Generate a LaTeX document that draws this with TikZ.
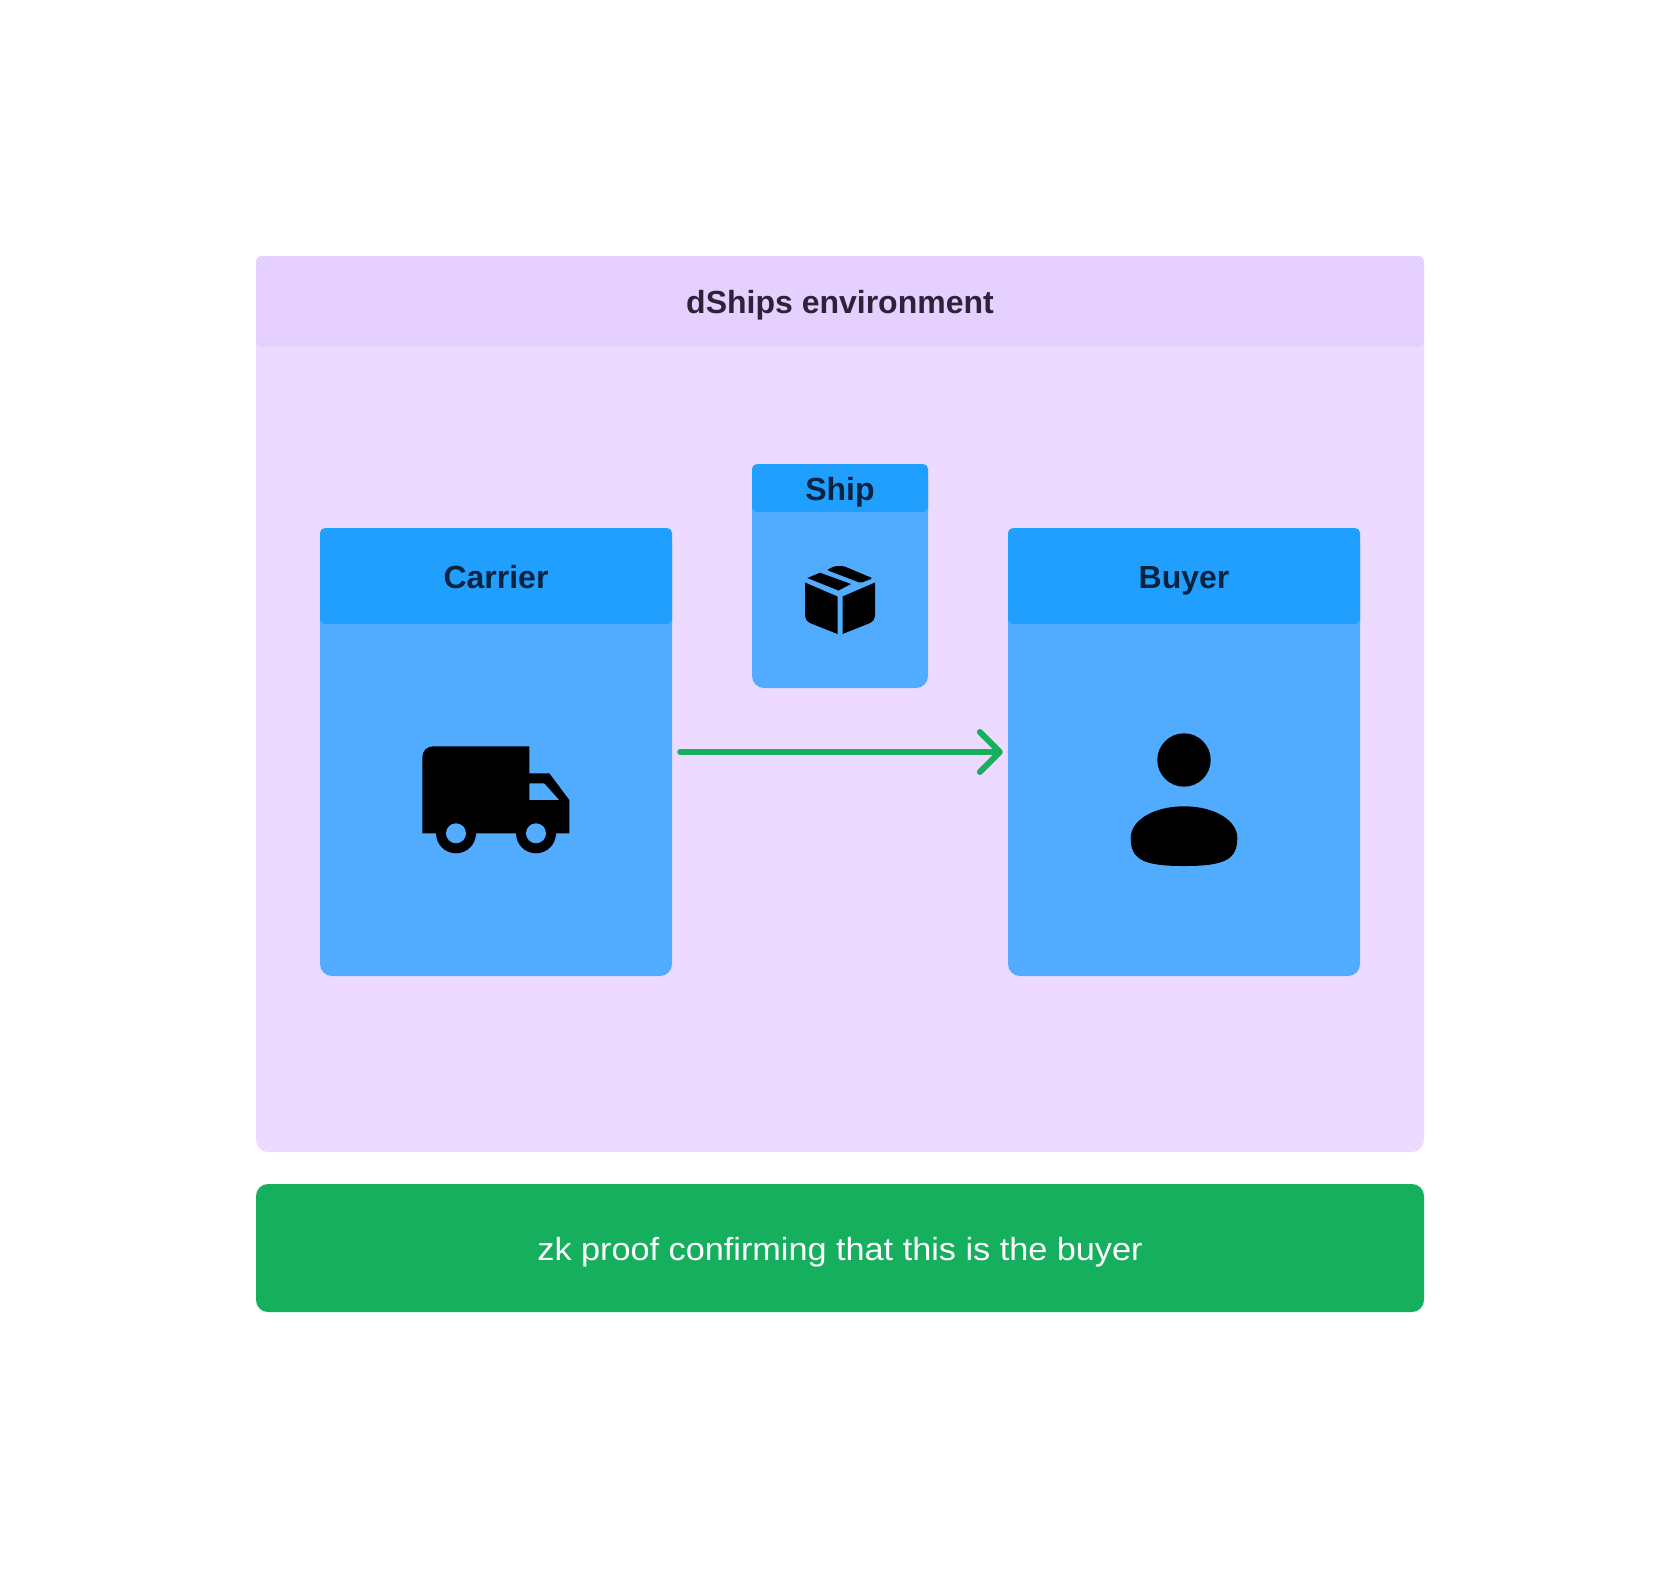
\documentclass[tikz,border=0pt]{standalone}
\usepackage{fontspec}
\setmainfont{Liberation Sans}
\newfontfamily\plainfont[FakeStretch=1.07]{Liberation Sans}
\usetikzlibrary{arrows.meta}
\definecolor{envBody}{HTML}{EDDBFF}
\definecolor{envHead}{HTML}{E6D0FF}
\definecolor{actorBody}{HTML}{51ACFF}
\definecolor{actorHead}{HTML}{209FFF}
\definecolor{proofGreen}{HTML}{16AF5E}
\definecolor{envText}{HTML}{2E2239}
\definecolor{actorText}{HTML}{08233F}
\tikzstyle{body}=[
  inner sep=0,
  rounded corners=12pt,
  text height=31pt,
  text depth=7pt
]
\tikzstyle{head}=[
  inner sep=0,
  rounded corners=5pt,
  font=\fontsize{32}{38}\selectfont\bfseries,
  text height=31pt,
  text depth=7pt
]

\begin{document}
\begin{tikzpicture}[x=1pt,y=-1pt]
          \def \xCarrier {496}
          \def \xShip {840}
          \def \xBuyer {1184}
          \def \yMid {752}
          \def \yHead {576}

          \useasboundingbox (0,0) rectangle (1680,1568);

          % environment
          \node[body,fill=envBody,minimum width=1168pt,minimum height=896pt] (envbody) at (\xShip,704) {};
          \node[head,fill=envHead,text=envText,minimum width=1168pt,minimum height=91pt] (envhead) at (\xShip,301.5) {dShips environment};

          % actors
          \node[body,fill=actorBody,minimum width=352pt,minimum height=448pt] (carrier) at (\xCarrier,\yMid) {};
          \node[head,fill=actorHead,text=actorText,minimum width=352pt,minimum height=96pt] (carrierhead) at (\xCarrier,\yHead) {Carrier};
          \node[body,fill=actorBody,minimum width=352pt,minimum height=448pt] (buyer) at (\xBuyer,\yMid) {};
          \node[head,fill=actorHead,text=actorText,minimum width=352pt,minimum height=96pt] (buyerhead) at (\xBuyer,\yHead) {Buyer};

          % ship
          \node[body,fill=actorBody,minimum width=176pt,minimum height=224pt] (ship) at (\xShip,\yHead) {};
          \node[head,fill=actorHead,text=actorText,minimum width=176pt,minimum height=48pt] (shiphead) at (\xShip,488) {Ship};

          % proof
          \node[body,fill=proofGreen,text=white,font=\fontsize{32}{38}\plainfont,minimum width=1168pt,minimum height=128pt] (proof) at (\xShip,1248) {zk proof confirming that this is the buyer};

          % connect carrier to buyer
          \draw[proofGreen,line width=6pt,line cap=round,shorten <=8pt,shorten >=5pt,-{Straight Barb[length=20pt,width=40pt,line width=6pt,round]}] (carrier) -- (buyer);

          % truck
          \fill[even odd rule] (422.3,833.3) -- (422.3,757) .. controls (422.3,751) and (427,746.3) .. (433,746.3) -- (529.3,746.3) -- (529.3,773.3) -- (549.3,773.3) -- (569.3,800) -- (569.3,833.3) -- cycle
            (529.3,783.3) -- (544.3,783.3) -- (559.3,800) -- (529.3,800) -- cycle;
          \foreach \i in {456,536}{
            \fill (\i,833.3) circle[radius=20];
            \fill[actorBody] (\i,833.3) circle[radius=10];
          }

          % parcel
          \fill (837.5,596.5) -- (837.5,634) [rounded corners=5pt] -- (805,621) [sharp corners] -- (805,582.5) -- cycle;
          \fill (842.5,596.5) -- (842.5,634) [rounded corners=5pt] -- (875,621) [sharp corners] -- (875,582.5) -- cycle;
          \fill (807.3,578) -- (820,572.7) -- (851,584) -- (838.5,590.5) -- cycle;
          \fill[rounded corners=2pt] (826.7,570) -- (835,566) -- (843.5,566) -- (872.7,578.3) -- (860.7,583) -- cycle;

          % person
          \fill (\xBuyer,760) circle[radius=26.7];
          \fill (\xBuyer,806.3) .. controls (1214,806.3) and (1237.3,820) .. (1237.3,838) .. controls (1237.3,860) and (1224,866) .. (\xBuyer,866) .. controls (1144,866) and (1130.7,860) .. (1130.7,838) .. controls (1130.7,820) and (1154,806.3) .. (\xBuyer,806.3) -- cycle;
\end{tikzpicture}
\end{document}
